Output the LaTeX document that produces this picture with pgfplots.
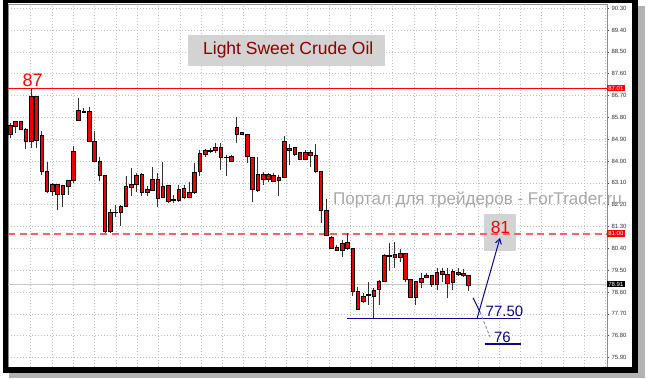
\documentclass[border=0pt]{standalone}
\usepackage{pgfplots}
\pgfplotsset{compat=1.18}
\usepackage{pgfplotstable}
\usepgfplotslibrary{statistics}
\usetikzlibrary{arrows.meta}
\usepackage{fontspec}
\setmainfont{Liberation Sans}
\definecolor{navyc}{HTML}{0A0A8C}
\definecolor{titlered}{HTML}{8B0000}
\definecolor{gridc}{HTML}{BEBEBE}
\definecolor{boxgray}{HTML}{D3D3D3}
\definecolor{wmgray}{HTML}{A8A8A8}
\definecolor{candle}{HTML}{F00000}
\definecolor{salmonred}{HTML}{FF6060}

% i high bodytop bodybottom low
\pgfplotstableread{
i h bt bb l
0 85.55 85.49 85.12 84.95
1 85.65 85.62 85.44 85.17
2 85.65 85.62 85.31 85.28
3 85.35 85.31 84.81 84.48
4 86.97 86.65 84.83 84.52
5 86.68 86.65 84.84 84.52
6 85.24 85.05 83.59 83.43
7 83.95 83.59 82.74 82.70
8 83.08 83.04 82.74 82.56
9 83.05 83.04 82.63 81.98
10 83.01 83.00 82.63 82.12
11 83.22 83.19 82.97 82.60
12 84.62 84.41 83.19 83.11
13 86.61 86.08 85.69 85.65
14 86.17 86.04 86.01 85.97
15 86.24 86.04 84.83 84.80
16 85.24 84.83 83.98 83.98
17 84.18 84.00 83.40 83.19
18 83.43 83.40 81.12 81.05
19 82.01 81.87 81.12 81.02
20 82.19 81.90 81.87 81.71
21 82.19 82.15 81.87 81.34
22 83.38 82.97 82.12 82.12
23 83.70 83.05 82.93 82.56
24 83.49 83.43 83.05 82.74
25 83.49 83.47 82.70 82.56
26 82.95 82.85 82.70 82.56
27 83.77 83.25 82.81 82.81
28 83.49 83.26 82.46 82.09
29 83.96 82.97 82.51 82.46
30 83.00 83.00 82.33 82.30
31 82.60 82.42 82.37 82.26
32 83.01 82.85 82.37 82.33
33 83.01 82.86 82.49 82.46
34 83.15 82.71 82.51 82.46
35 83.91 83.54 82.70 82.67
36 84.46 84.30 83.56 83.38
37 84.48 84.43 84.29 84.15
38 84.52 84.46 84.39 84.35
39 84.73 84.57 84.43 84.32
40 84.73 84.55 84.14 83.63
41 84.25 84.17 84.14 83.39
42 84.25 84.18 84.00 83.97
43 85.80 85.38 85.12 84.73
44 85.21 85.17 85.10 85.07
45 85.12 85.12 84.18 83.93
46 84.15 84.15 82.84 82.33
47 84.15 83.45 82.81 82.74
48 83.56 83.47 83.26 83.01
49 83.49 83.45 83.26 83.15
50 83.52 83.43 83.18 83.15
51 83.43 83.34 83.22 82.56
52 85.03 84.80 83.33 83.29
53 84.70 84.52 84.43 83.84
54 84.59 84.55 84.29 84.21
55 84.39 84.35 84.09 84.04
56 84.46 84.35 84.09 84.04
57 84.46 84.35 84.22 83.77
58 84.69 84.25 83.56 83.54
59 83.56 83.56 81.98 81.43
60 82.42 81.98 80.95 80.89
61 80.89 80.86 80.40 80.36
62 80.54 80.43 80.34 80.30
63 80.75 80.61 80.34 80.06
64 81.02 80.64 80.40 80.34
65 80.40 80.40 78.62 78.45
66 78.82 78.62 77.90 77.86
67 78.55 78.44 78.21 78.14
68 79.00 78.51 78.45 78.07
69 78.76 78.69 78.44 77.49
70 79.10 79.06 78.71 78.07
71 80.16 80.13 79.06 79.03
72 80.61 80.13 80.09 79.47
73 80.68 80.16 80.03 79.58
74 80.38 80.18 80.03 79.85
75 80.18 80.18 79.14 79.03
76 79.14 79.13 78.39 78.39
77 79.03 79.03 78.39 78.07
78 79.40 79.17 79.00 78.76
79 79.37 79.31 79.20 79.17
80 79.31 79.28 78.92 78.82
81 79.61 79.41 78.93 78.69
82 79.61 79.47 79.33 79.03
83 79.61 79.33 78.96 78.37
84 79.54 79.44 79.00 78.69
85 79.61 79.41 79.33 79.28
86 79.54 79.37 79.28 79.24
87 79.28 79.28 78.89 78.66
}\candles

\begin{document}
\begin{tikzpicture}[x=1pt,y=1pt]
\useasboundingbox (0,0) rectangle (648,378);
\fill[white] (0,0) rectangle (648,378);
% shadow
\fill[black!30] (638,0) rectangle (645,372);
\fill[black!30] (9,0) rectangle (645,5);
\begin{axis}[
  at={(8pt,11pt)}, anchor=south west,
  width=599pt, height=363pt, scale only axis,
  xmin=-0.38, xmax=113.28,
  ymin=75.51, ymax=90.47,
  clip=false,
  axis line style={draw=black!45, line width=0.4pt},
  xtick={3.93,7.97,...,112}, xticklabels={},
  x tick style={draw=none},
  ytick={75.9,76.8,77.7,78.6,79.5,80.4,81.3,82.2,83.1,84.0,84.9,85.8,86.7,87.6,88.5,89.4,90.3},
  yticklabel pos=right,
  y tick style={draw=black!70, line width=0.4pt},
  tick align=outside, major tick length=2pt,
  yticklabel style={font=\fontsize{6}{7}\selectfont, text=black!80, xshift=-1pt,
    /pgf/number format/fixed, /pgf/number format/fixed zerofill,
    /pgf/number format/precision=2, /pgf/number format/assume math mode=true},
  grid=major,
  major grid style={gridc, dash pattern=on 1pt off 2pt, line width=0.5pt},
  boxplot/draw direction=y,
  boxplot/box extend=0.68,
  boxplot/whisker extend=0,
  boxplot/every whisker/.style={draw=black!80, line width=0.7pt},
  boxplot/every median/.style={draw=black, line width=0.5pt},
]
% bid line
\addplot[black!22, line width=0.9pt, forget plot] coordinates {(-0.38,78.91) (113.28,78.91)};
% title box
\fill[boxgray] (axis cs:33.78,89.19) rectangle (axis cs:71.16,87.90);
\node[titlered, font=\fontsize{17.5}{19}\selectfont] at (axis cs:52.8,88.56) {Light Sweet Crude Oil};
% 81 target box
\fill[boxgray] (axis cs:89.94,81.82) rectangle (axis cs:96.02,80.29);
% levels
\addplot[red, line width=1.3pt, forget plot] coordinates {(-0.38,87.0) (113.28,87.0)};
\addplot[salmonred, line width=1.5pt, dash pattern=on 7pt off 4.5pt, forget plot] coordinates {(-0.38,81.0) (113.28,81.0)};
% candles
\pgfplotsinvokeforeach{0,...,87}{
  \pgfplotstablegetelem{#1}{h}\of\candles \let\ch\pgfplotsretval
  \pgfplotstablegetelem{#1}{bt}\of\candles \let\cbt\pgfplotsretval
  \pgfplotstablegetelem{#1}{bb}\of\candles \let\cbb\pgfplotsretval
  \pgfplotstablegetelem{#1}{l}\of\candles \let\cl\pgfplotsretval
  \edef\candlecmd{\noexpand\addplot[boxplot prepared={draw position=#1,
      lower whisker=\cl, lower quartile=\cbb, median=\cbb,
      upper quartile=\cbt, upper whisker=\ch},
    fill=candle, draw=black, line width=0.5pt] coordinates {};}
  \candlecmd
}
% watermark
\node[wmgray, anchor=west, font=\fontsize{17}{19}\selectfont, inner sep=0pt] at (axis cs:61.29,82.40) {Портал для трейдеров - ForTrader.ru};
% navy annotations
\draw[navyc, line width=1.2pt] (axis cs:63.95,77.50) -- (axis cs:96.77,77.50);
\draw[navyc, line width=1.2pt] (axis cs:90.13,76.46) -- (axis cs:96.96,76.46);
\draw[navyc, line width=1pt, -{Straight Barb[length=5pt,width=6pt]}] (axis cs:88.6,77.49) -- (axis cs:92.98,80.83);
\draw[navyc, line width=1pt] (axis cs:87.86,78.36) -- (axis cs:89.18,77.78);
\draw[navyc!55, line width=0.8pt, dash pattern=on 3pt off 2pt] (axis cs:89.18,77.78) -- (axis cs:91.08,76.75);
\node[navyc, font=\fontsize{15}{16}\selectfont] at (axis cs:93.83,77.80) {77.50};
\node[navyc, font=\fontsize{15}{16}\selectfont] at (axis cs:93.45,76.74) {76};
% level texts
\node[red, font=\fontsize{18}{20}\selectfont] at (axis cs:4.31,87.34) {87};
\node[red, font=\fontsize{17.5}{19}\selectfont] at (axis cs:93.07,81.28) {81};
% price scale markers
\node[fill=red, text=white, anchor=west, inner sep=1.2pt, font=\fontsize{6}{7}\selectfont] at (axis cs:113.28,87.01) {87.01};
\node[fill=red, text=white, anchor=west, inner sep=1.2pt, font=\fontsize{6}{7}\selectfont] at (axis cs:113.28,81.00) {81.00};
\node[fill=black, text=white, anchor=west, inner sep=1.2pt, font=\fontsize{6}{7}\selectfont] at (axis cs:113.28,78.93) {78.91};
\end{axis}
% frame
\fill[black] (3,5) rectangle (8,378);
\fill[black] (3,375) rectangle (638,378);
\fill[black] (632,5) rectangle (638,378);
\fill[black] (3,5) rectangle (638,11);
\end{tikzpicture}
\end{document}
